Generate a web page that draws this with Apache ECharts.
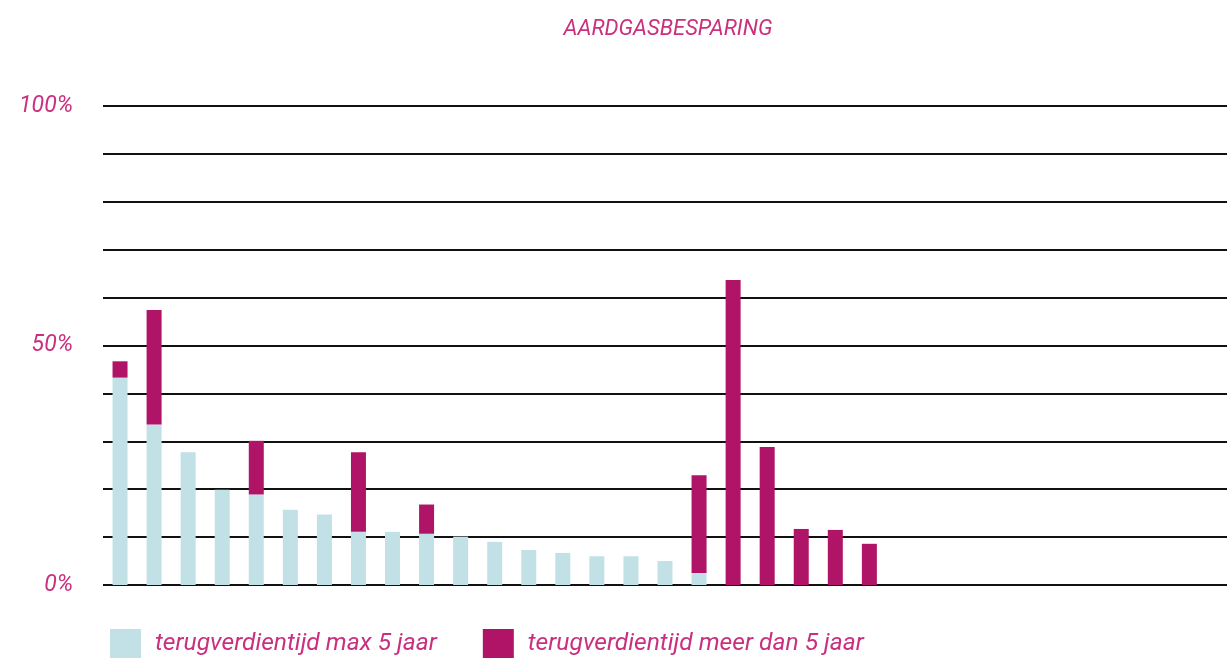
<!DOCTYPE html>
<html>
<head>
<meta charset="utf-8">
<script src="https://cdn.jsdelivr.net/npm/echarts@6/dist/echarts.min.js"></script>
<style>
html,body{margin:0;padding:0;background:#fff;}
#chart{width:1227px;height:658px;}
</style>
</head>
<body>
<div id="chart"></div>
<script>
// 23 measures plus empty slots to the right
const categories = ['1','2','3','4','5','6','7','8','9','10','11','12','13','14','15','16','17','18','19','20','21','22','23',
  '','','','','','','','','',''];
const shortPayback = [43.3, 33.5, 27.7, 19.9, 18.9, 15.7, 14.7, 11.1, 11.1, 10.7, 10.1, 9.0, 7.3, 6.7, 6.0, 6.0, 5.0, 2.5, null, null, null, null, null];
const longPayback  = [3.4, 23.9, null, null, 11.2, null, null, 16.6, null, 6.1, null, null, null, null, null, null, null, 20.4, 63.7, 28.8, 11.7, 11.5, 8.6];
const yTickLabels = {0: '0%', 50: '50%', 100: '100%'};
const seriesNames = ['terugverdientijd max 5 jaar', 'terugverdientijd meer dan 5 jaar'];
const titleText = 'AARDGASBESPARING';

const pink = '#c9317f';
const chart = echarts.init(document.getElementById('chart'), null, {renderer: 'canvas'});
chart.setOption({
  animation: false,
  title: {
    text: titleText,
    left: 668,
    textAlign: 'center',
    top: 18,
    padding: 0,
    textStyle: {color: pink, fontSize: 22, fontStyle: 'italic', fontWeight: 'normal', fontFamily: 'Roboto'}
  },
  legend: {
    left: 110,
    top: 629,
    padding: 0,
    itemWidth: 31,
    itemHeight: 30,
    itemGap: 46,
    icon: 'rect',
    textStyle: {color: pink, fontSize: 24.6, fontStyle: 'italic', fontFamily: 'Roboto', padding: [12, 0, 0, 9]},
    data: seriesNames
  },
  grid: {left: 103, top: 106, width: 1128, height: 479, containLabel: false},
  xAxis: {
    type: 'category',
    data: categories,
    axisLine: {show: false},
    axisTick: {show: false},
    axisLabel: {show: false}
  },
  yAxis: {
    type: 'value',
    min: 0, max: 100, interval: 10,
    axisLine: {show: false},
    axisTick: {show: false},
    splitLine: {lineStyle: {color: '#111', width: 2}},
    axisLabel: {
      margin: 30,
      color: pink, fontSize: 23, fontStyle: 'italic', fontFamily: 'Roboto',
      formatter: v => (yTickLabels[v] !== undefined ? yTickLabels[v] : '')
    }
  },
  series: [
    {name: seriesNames[0], type: 'bar', stack: 'a', barWidth: 15, data: shortPayback, itemStyle: {color: '#c1e1e7'}},
    {name: seriesNames[1], type: 'bar', stack: 'a', barWidth: 15, data: longPayback, itemStyle: {color: '#b01466'}}
  ]
});
</script>
</body>
</html>
